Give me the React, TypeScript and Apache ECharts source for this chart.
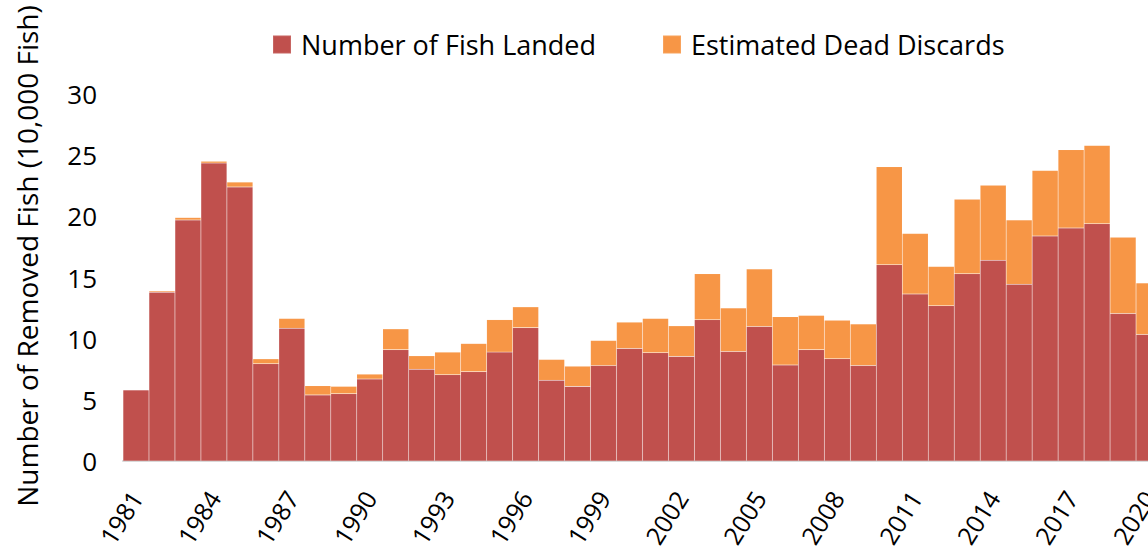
import React, { useEffect, useRef } from "react";
import * as echarts from "echarts";

const years = [
  "1981","1982","1983","1984","1985","1986","1987","1988","1989","1990",
  "1991","1992","1993","1994","1995","1996","1997","1998","1999","2000",
  "2001","2002","2003","2004","2005","2006","2007","2008","2009","2010",
  "2011","2012","2013","2014","2015","2016","2017","2018","2019","2020",
];

const fishLanded = [
  5.8, 13.8, 19.7, 24.35, 22.4, 7.95, 10.85, 5.4, 5.5, 6.7,
  9.1, 7.5, 7.05, 7.3, 8.9, 10.9, 6.6, 6.1, 7.8, 9.2,
  8.85, 8.55, 11.55, 8.95, 11.0, 7.85, 9.1, 8.35, 7.8, 16.05,
  13.65, 12.7, 15.3, 16.4, 14.45, 18.4, 19.05, 19.4, 12.05, 10.35,
];

const deadDiscards = [
  0.05, 0.1, 0.2, 0.15, 0.4, 0.4, 0.8, 0.75, 0.6, 0.4,
  1.7, 1.1, 1.85, 2.3, 2.65, 1.7, 1.7, 1.65, 2.05, 2.15,
  2.8, 2.5, 3.75, 3.55, 4.7, 3.95, 2.8, 3.15, 3.4, 8.0,
  4.95, 3.2, 6.1, 6.15, 5.25, 5.35, 6.4, 6.4, 6.25, 4.2,
];

const seriesNames = ["Number of Fish Landed", "Estimated Dead Discards"];
const yTitle = "Number of Removed Fish (10,000 Fish)";
const FONT = "'Open Sans', 'Noto Sans', sans-serif";

export default function App() {
  const ref = useRef<HTMLDivElement>(null);
  useEffect(() => {
    if (!ref.current) return;
    const chart = echarts.init(ref.current, null, { renderer: "svg" });
    chart.setOption({
      animation: false,
      backgroundColor: "#ffffff",
      textStyle: { fontFamily: FONT },
      legend: {
        left: 267,
        top: 26,
        itemWidth: 18,
        itemHeight: 18,
        itemGap: 66,
        icon: "rect",
        textStyle: { fontSize: 27, color: "#000", fontFamily: FONT, padding: [0, 0, 0, 5] },
        data: seriesNames,
      },
      graphic: [
        {
          type: "text",
          x: 27,
          y: 256,
          rotation: Math.PI / 2,
          style: {
            text: yTitle,
            fontSize: 28,
            fontFamily: FONT,
            fill: "#000",
            align: "center",
            verticalAlign: "middle",
            textAlign: "center",
            textVerticalAlign: "middle",
          },
        },
      ],
      grid: {
        left: 123,
        top: 94,
        bottom: 91,
        right: -14,
        containLabel: false,
        outerBoundsMode: "none",
      },
      xAxis: {
        type: "category",
        data: years,
        axisTick: { show: false },
        axisLine: { lineStyle: { color: "#d9d9d9", width: 2 } },
        axisLabel: {
          interval: 2,
          rotate: 58,
          margin: 32,
          fontSize: 25,
          color: "#000",
          fontFamily: FONT,
        },
      },
      yAxis: {
        type: "value",
        min: 0,
        max: 30,
        interval: 5,
        splitLine: { show: false },
        axisLine: { show: false },
        axisTick: { show: false },
        axisLabel: { fontSize: 26, color: "#000", margin: 26, fontFamily: FONT },
      },
      series: [
        {
          name: seriesNames[0],
          type: "bar",
          stack: "total",
          barCategoryGap: "0%",
          data: fishLanded,
          itemStyle: { color: "#C0504D", borderColor: "rgba(255,255,255,0.12)", borderWidth: 0.5 },
        },
        {
          name: seriesNames[1],
          type: "bar",
          stack: "total",
          barCategoryGap: "0%",
          data: deadDiscards,
          itemStyle: { color: "#F79646", borderColor: "rgba(255,255,255,0.12)", borderWidth: 0.5 },
        },
      ],
    });
    return () => chart.dispose();
  }, []);
  return (
    <div
      ref={ref}
      style={{ position: "fixed", left: 0, top: 0, width: 1148, height: 552, overflow: "hidden" }}
    />
  );
}
